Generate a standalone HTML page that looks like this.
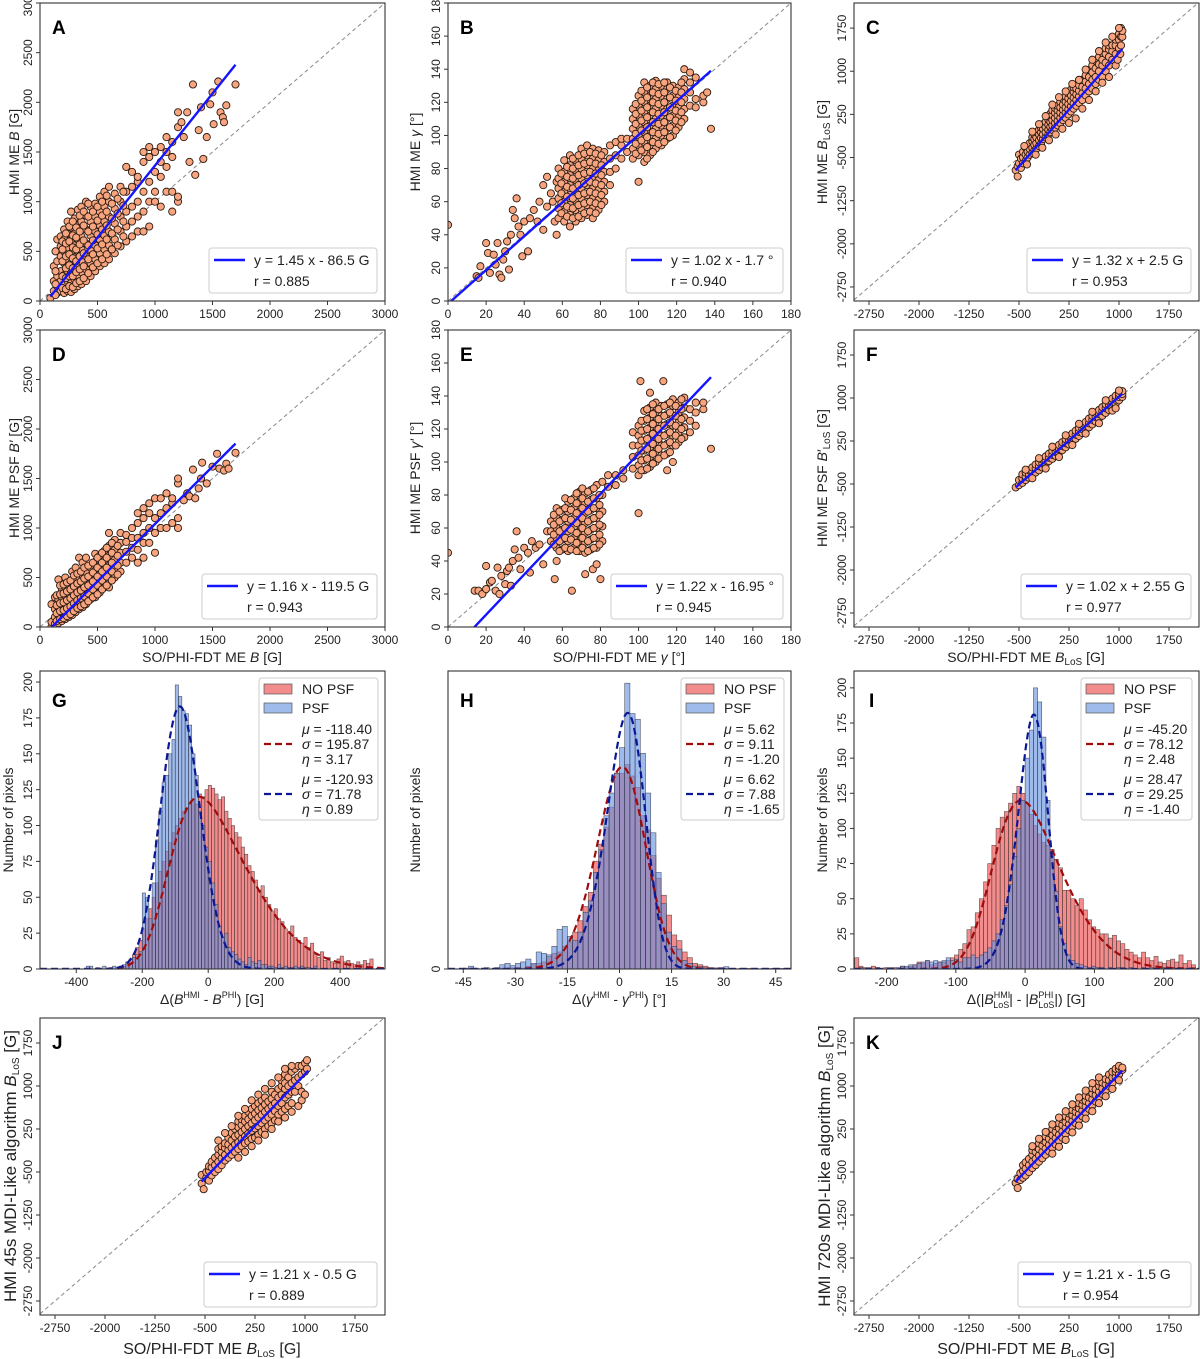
<!DOCTYPE html>
<html><head><meta charset="utf-8"><title>HMI vs SO/PHI comparison</title>
<style>
html,body{margin:0;padding:0;background:#fff;}
svg{display:block;font-family:"Liberation Sans",Arial,sans-serif;}
</style></head>
<body>
<svg id="fig" width="1200" height="1359" viewBox="0 0 1200 1359" xmlns="http://www.w3.org/2000/svg"></svg>
<script>
// ---------------- DATA ----------------
// scatter data rows: [x, y1, y2, ...]
const ptsA = [[90,30],[120,100,200,350],[150,80,150,250,400,620],[180,100,200,300,450,550,650],[210,80,160,260,380,500,620,720],[240,100,200,300,420,540,680,800],[270,90,180,280,380,480,600,740,900],[300,120,220,330,440,560,680,830],[330,150,260,370,500,620,760,920],[360,170,290,400,520,650,800,950],[400,200,320,450,580,720,860,1000],[440,250,380,520,660,800,950],[480,300,420,560,700,850,980],[520,350,480,620,760,900,1050],[560,380,520,660,800,950,1100],[600,420,560,700,850,1000,1150],[650,480,620,780,930,1080],[700,550,700,850,1000,1150],[750,600,750,900,1100,1350],[800,650,800,950,1150,1300],[850,700,850,1000,1200,1250],[900,700,900,1100,1400,1500],[950,750,1000,1200,1450,1550],[1000,1000,1100,1300,1500],[1050,950,1250,1400,1550],[1100,1100,1350,1500,1650],[1150,900,1100,1450,1600],[1200,1000,1050,1750,1900],[1230,1800],[1250,1650],[1280,1900],[1300,1400],[1330,2180],[1350,1270],[1380,1720],[1400,1950],[1420,1430],[1450,1650],[1480,1980],[1500,2100],[1510,1780],[1550,2210],[1570,1900],[1590,1850],[1600,1800],[1620,1970],[1700,2180],
[135,60,170,300,500],[195,130,250,400,520,600],[225,120,230,330,450,580,680],[255,150,250,360,470,600,750],[285,140,250,330,430,540,660,800],[315,180,290,400,520,640,740],[345,200,320,450,570,700,860],[380,230,350,480,610,760,900],[420,280,420,560,700,850,980],[460,340,470,610,750,900],[500,380,530,670,810,950],[540,420,570,720,860,1000],[580,470,620,760,900,1060],[625,520,680,830,980],[675,560,720,880,1030],[725,650,800,960,1100]];
const ptsB = [[0,46],[15,15],[16,14],[17,21],[20,35],[21,29],[22,17],[24,28],[25,22],[26,35],[27,16],[28,14],[29,25],[30,30],[31,36],[32,19],[33,40],[34,55],[35,50],[36,62],[37,45],[38,40],[39,27],[40,48],[42,30],[43,50],[45,55],[47,48],[48,60],[50,43,70],[52,75,57],[54,65],[55,60],[56,48],[57,72,40],[58,50,56,62,68,74,80],[61,48,54,60,66,72,78,85],[64,45,52,58,64,70,76,82,88],[67,48,55,61,67,73,79,85],[70,50,56,62,68,74,80,86,92],[73,52,58,64,70,76,82,88,94],[76,50,56,62,68,74,80,86,92],[79,55,61,67,73,79,85,91],[82,60,66,72,78,84,90],[85,70,78,86,94],[88,80,88,96],[91,86,94,98],[94,90,98],[97,86,92,98,104,110,116],[100,72,88,94,100,106,112,118,124],[103,84,90,96,102,108,114,120,126,132],[106,88,94,100,106,112,118,124,130],[109,92,98,104,110,116,122,128,133],[112,94,100,106,112,118,124,130],[115,98,104,110,116,122,128,132],[118,100,106,112,118,124,130],[121,105,111,117,123,129],[124,110,116,122,128,134,140],[127,118,126,132,138],[130,117,122,135],[134,120,124],[136,126],[138,104],
[59.5,53,59,65,71,77],[62.5,51,57,63,69,75,81],[65.5,50,56,62,68,74,80,86],[68.5,51,58,64,70,76,82,88],[71.5,53,59,65,71,77,83,89],[74.5,54,60,66,72,78,84,90],[77.5,53,59,65,71,77,83,89],[80.5,58,64,70,76,82,88],[98.5,89,95,101,107,113,119],[101.5,91,97,103,109,115,121,127],[104.5,86,93,99,105,111,117,123,129],[107.5,90,96,102,108,114,120,126,132],[110.5,95,101,107,113,119,125,131],[113.5,96,102,108,114,120,126,132],[116.5,99,105,111,117,123,129],[119.5,103,109,115,121,127],[122.5,108,114,120,126,132]];
const ptsD = [[100,0,50,230],[130,30,100,180,300],[160,40,120,200,280,480],[190,60,140,220,300,380],[220,80,160,240,320,400,500],[250,100,180,260,340,420],[280,120,200,280,360,440,560],[310,150,230,310,390,470,600],[340,180,260,340,420,500,700],[370,200,280,360,440,520,650],[400,230,310,390,470,550,700],[440,280,360,440,520,600],[480,300,390,480,570,660,740],[520,350,440,530,620,720],[560,400,490,580,670,770],[600,400,520,620,720,820,950],[650,500,590,680,780,880],[700,560,650,750,850,950],[750,650,760,860,930],[800,700,800,900,1000],[850,650,780,900,1050,1150],[900,700,850,950,1100,1200],[950,850,1000,1150,1250],[1000,750,950,1100,1300],[1050,1000,1150,1300],[1100,1000,1200,1350],[1150,1050,1250,1300],[1200,1000,1100,1450,1500],[1250,1280],[1280,1350],[1300,1320],[1330,1590],[1350,1300],[1380,1400],[1400,1500],[1410,1660],[1450,1450],[1500,1620],[1540,1750],[1560,1600],[1600,1580],[1620,1650],[1640,1600],[1700,1760],
[145,60,140,220,320],[175,80,160,240,330,420],[205,90,170,250,340,430],[235,110,190,270,360,450],[265,130,210,290,380,470],[295,160,240,320,410,520],[325,190,270,350,440,540],[355,210,290,370,460,560],[385,230,310,400,490,600],[420,260,340,420,510,620],[460,300,380,460,550,650],[500,330,420,510,600,700],[540,380,470,560,650,750],[580,420,510,600,700,800],[625,470,560,650,750,850],[675,530,620,720,820]];
const ptsE = [[0,45],[14,22],[16,22],[18,20],[20,37,23],[22,27],[23,28],[25,22],[26,36],[27,20],[28,31],[30,26],[31,34],[32,36],[33,25],[34,40],[35,47],[36,58],[37,42],[38,35],[40,48],[42,45],[43,33],[44,52],[46,48],[48,50],[50,38],[52,58],[56,29],[57,40],[58,65],[65,22],[72,32],[76,35],[78,38],[80,29],[54,52,58,64],[57,48,54,60,66,72],[60,47,53,59,65,71],[63,46,52,58,64,70,76],[66,48,54,60,66,72,78],[69,46,52,58,64,70,76,82],[72,45,51,57,63,69,75,81],[75,47,53,59,65,71,77,83],[78,48,54,60,66,72,78,86],[81,52,61,70,80,88],[84,85,92],[88,86,92],[92,90,95],[100,69],[97,96,103,110,118],[100,92,98,104,110,116,122],[103,95,101,107,113,119,125,131],[106,97,103,109,115,121,127,133,142],[109,100,106,112,118,124,130,136],[112,104,110,116,122,128,134],[115,95,105,111,117,123,129,135],[118,100,110,116,122,128,134,138],[121,112,118,124,130,136],[124,115,121,127,133,139],[127,118,125,132],[130,122,130,136],[134,132,136],[138,108],[101,149],[113,149],
[55.5,50,56,62,68],[58.5,46,52,58,64,70],[61.5,48,54,60,66,72,78],[64.5,47,53,59,65,71,77],[67.5,46,51,57,63,69,75,81],[70.5,48,54,60,66,72,78,84],[73.5,46,52,58,64,70,76,82],[76.5,48,54,60,66,72,78,84],[79.5,50,56,62,68,74,80],[101.5,95,101,107,113,119,125],[104.5,96,102,108,114,120,126,132],[107.5,99,105,111,117,123,129,135],[110.5,102,108,114,120,126,132],[113.5,104,110,116,122,128,134],[116.5,106,112,118,124,130,136],[119.5,110,116,122,128,134],[122.5,114,120,126,132,138]];
const ptsC = [[-550,-720],[-520,-830,-650],[-500,-600,-450],[-470,-680,-520],[-440,-600,-500,-400],[-400,-560,-450,-330],[-370,-500,-400,-300],[-340,-450,-350,-250],[-300,-420,-330,-220,-150],[-270,-380,-280,-180,-100],[-240,-350,-250,-150,-60],[-200,-300,-200,-100,-20],[-170,-260,-160,-60,20],[-140,-180,-100,0,80],[-100,-150,-60,30,120],[-60,-100,-20,70,160,220],[-30,-60,30,120,200,260],[0,-20,60,150,240,320],[40,20,100,190,280,360],[80,60,140,230,320,400],[120,100,190,280,370,470],[160,150,240,330,420,520],[200,190,280,370,470,560],[240,250,340,430,530,620],[280,300,390,480,580,680],[320,350,440,540,640,720],[360,400,500,600,700],[400,450,560,660,760],[450,500,620,730,850],[500,580,700,820,930],[550,650,780,900,1020],[600,700,850,980,1100],[650,780,900,1050,1180],[700,850,1000,1120,1250],[750,900,1100,1200,1320],[800,1000,1150,1300,1400],[850,1100,1250,1380,1450],[900,1200,1350,1450],[950,1300,1450,1550],[1000,1400,1550,1650],[1030,1450,1600,1750],[1050,1600,1700],
[-420,-300],[-380,-620],[-300,-50],[-250,-450],[-200,80],[-150,-330],[-100,220],[-50,-200],[0,420],[50,-100],[100,550],[150,0],[200,650],[250,100],[300,780],[350,180],[400,850],[450,350],[500,1030],[550,500],[600,1200],[650,650],[700,1350],[750,800],[800,1500],[850,900],[900,1600],[950,1100],[1000,1750],[980,1200],[1020,1300]];
const ptsF = [[-550,-560],[-500,-520,-430],[-450,-480,-400,-330],[-400,-430,-370,-300],[-350,-390,-330,-260],[-300,-350,-280,-210],[-250,-300,-230,-160],[-200,-260,-190,-120],[-150,-210,-140,-70],[-100,-160,-90,-20],[-50,-100,-40,30],[0,-60,10,80],[50,-10,60,130],[100,40,110,180],[150,90,160,230],[200,140,210,280],[250,190,260,330],[300,240,310,380],[350,290,360,430],[400,340,410,480],[450,390,460,530],[500,440,510,580],[550,490,560,640],[600,540,620,690],[650,590,670,740],[700,640,720,790],[750,690,770,840],[800,740,820,890],[850,790,870,940],[900,840,920,990],[950,900,970,1040],[1000,960,1020,1080],[1050,1020,1070,1120],
[-400,-250],[-300,-400],[-200,-50],[-100,-230],[0,150],[100,-30],[200,350],[300,180],[400,550],[500,380],[600,760],[700,560],[800,960],[900,780],[1000,1130],[950,820]];
const ptsJ = [[-550,-550,-700],[-520,-800],[-480,-600,-500],[-440,-650,-480,-400],[-400,-560,-420,-320],[-350,-500,-380,-250],[-300,-450,-320,-200,-100],[-250,-380,-260,-150,-50],[-200,-300,-200,-80,0],[-150,-250,-120,-20,100],[-100,-200,-80,50,180],[-50,-150,-20,120,250],[0,-100,20,150,280,380],[50,-50,80,200,320,420],[100,0,120,250,380,480],[150,30,170,300,420,550],[200,80,220,350,480,600],[250,100,260,400,520,650],[300,150,300,450,580,700],[350,200,350,500,620,750],[400,250,400,550,680,800],[450,300,450,600,730],[500,350,500,650,780,900],[550,400,560,700,850],[600,500,650,800,950],[650,550,700,850,1000,1100],[700,600,800,950,1050,1200],[750,650,850,1000,1150],[800,700,900,1050,1250],[850,900,1100,1300],[900,1000,1150,1350],[950,900,1200,1350],[1000,1250,1400],[1030,1300,1450],
[-300,50],[-200,180],[-100,300],[0,480],[100,600],[200,750],[300,850],[400,950],[500,1050],[600,1150],[700,1300],[800,1350],[0,-250],[100,-150],[200,-50],[300,50],[400,150],[500,250],[600,380],[700,450],[800,550],[900,650],[950,750],[1000,850]];
const ptsK = [[-550,-690],[-520,-780,-620],[-480,-640,-520],[-440,-600,-480,-380],[-400,-560,-440,-330],[-350,-500,-380,-270],[-300,-430,-320,-200,-120],[-250,-380,-270,-150,-60],[-200,-320,-210,-100,0],[-150,-260,-150,-40,60],[-100,-200,-90,20,120],[-50,-140,-30,80,180],[0,-80,30,140,250],[50,-20,90,200,300],[100,40,150,260,350],[150,100,210,320,420],[200,160,270,370,470],[250,230,330,430,520],[300,290,390,490,580],[350,350,450,550,640],[400,410,510,610,700],[450,470,570,670,760],[500,540,640,740,830],[550,600,700,800,900],[600,660,770,870,960],[650,730,840,940],[700,800,900,1000,1080],[750,860,960,1060],[800,920,1030,1120],[850,1000,1100,1200],[900,1050,1150,1250],[950,1150,1250,1300],[1000,1200,1300,1350],[1050,1280,1320],
[-300,-50],[-200,80],[-100,200],[0,330],[100,450],[200,560],[300,680],[400,800],[500,920],[600,1050],[700,1150],[0,-180],[100,-60],[200,60],[300,190],[400,310],[500,430],[600,560],[700,700],[800,820],[900,950],[1000,1100]];
// fit lines: slope, intercept, xstart, xend
const fitSlopes = [1.45, 1.02, 1.32, 1.16, 1.22, 1.02, 1.21, 1.21];
const fitIntercepts = [-86.5, -1.7, 2.5, -119.5, -16.95, 2.55, -0.5, -1.5];
const fitStarts = [90, 0, -550, 100, 13, -550, -550, -550];
const fitEnds = [1700, 138, 1050, 1700, 138, 1050, 1050, 1050];
const fitLabels = ["y = 1.45 x - 86.5 G","y = 1.02 x - 1.7 °","y = 1.32 x + 2.5 G","y = 1.16 x - 119.5 G","y = 1.22 x - 16.95 °","y = 1.02 x + 2.55 G","y = 1.21 x - 0.5 G","y = 1.21 x - 1.5 G"];
const rLabels = ["r = 0.885","r = 0.940","r = 0.953","r = 0.943","r = 0.945","r = 0.977","r = 0.889","r = 0.954"];
// histogram G (bin width 10 from -370)
const gStart = -370, gWidth = 10;
const gPSF = [2,2,0,1,0,2,0,1,2,1,2,3,5,4,8,10,12,53,50,35,60,90,110,130,135,150,160,198,190,180,178,170,150,135,110,100,85,75,60,45,30,22,25,15,12,10,7,5,3,8,5,4,6,3,3,2,2,1,3,1,2,1,1,2,1,2,1,1,0,2];
const gNoPSF = [0,0,0,0,0,0,0,0,0,0,0,2,4,7,10,15,20,28,35,42,50,60,68,75,82,88,95,100,105,110,112,115,118,115,122,120,125,128,126,122,118,120,110,105,100,95,92,85,80,72,68,62,55,58,50,45,40,42,35,33,28,25,30,22,20,18,22,15,18,10,8,12,6,8,5,4,7,9,5,6,4,3,5,3,6,4,7];
// histogram H (bin width 1.5 from -48)
const hStart = -48, hWidth = 1.5;
const hPSF = [0,0,3,10,3,0,5,0,5,15,20,12,20,25,35,20,60,55,50,80,140,150,115,100,130,200,240,340,420,540,620,690,780,1007,900,880,760,620,480,340,230,130,80,70,30,20,10,8,4,3,2,5,8,2,1,0,2,0,0,1,0,2,0,2];
const hNoPSF = [0,0,0,2,0,0,1,0,2,3,2,4,5,3,10,15,20,25,45,55,60,80,95,130,170,220,270,380,440,500,570,690,690,720,680,640,540,490,400,320,260,190,120,100,60,40,20,15,10,5,4,3,2,1,0,2,0,1,0,0,1,0,1,0];
// histogram I (bin width 6 from -246)
const iStart = -246, iWidth = 6;
const iPSF = [0,1,0,1,0,1,0,0,1,0,1,2,2,3,3,4,5,6,5,6,5,6,8,6,7,5,8,8,10,8,10,12,15,20,25,35,45,60,80,100,120,150,170,200,190,165,120,80,55,30,18,10,6,4,3,2,1,2,1,1,0,1,0,1,1,0,1,0,0,1,0,1,0,0,1,0,1,0,1,0,0,1];
const iNoPSF = [8,2,1,0,2,1,0,1,0,1,0,2,1,2,3,5,4,6,3,4,5,5,6,8,10,14,18,28,30,40,50,62,75,88,100,108,112,118,125,130,125,118,110,102,96,90,88,85,78,72,56,56,50,45,50,42,35,30,28,25,25,22,24,20,18,14,12,10,8,12,8,6,9,5,4,6,7,5,10,4,6,3];
// skew-normal fit params [mu, sigma, eta, peak]
const fitG_red = [-118.40, 195.87, 3.17, 120];
const fitG_blue = [-120.93, 71.78, 0.89, 183];
const fitH_red = [5.62, 9.11, -1.20, 712];
const fitH_blue = [6.62, 7.88, -1.65, 902];
const fitI_red = [-45.20, 78.12, 2.48, 120];
const fitI_blue = [28.47, 29.25, -1.40, 181];
const linTicks = [0,500,1000,1500,2000,2500,3000];
const angTicks = [0,20,40,60,80,100,120,140,160,180];
const losTicks = [-2750,-2000,-1250,-500,250,1000,1750];
const gXTicks = [-400,-200,0,200,400];
const hXTicks = [-45,-30,-15,0,15,30,45];
const iXTicks = [-200,-100,0,100,200];
const cntTicks = [0,25,50,75,100,125,150,175,200];

// ---------------- RENDER ----------------
const NS = "http://www.w3.org/2000/svg";
const svg = document.getElementById('fig');
function mk(tag, attrs, parent){
  const e = document.createElementNS(NS, tag);
  for (const k in attrs) e.setAttribute(k, attrs[k]);
  (parent || svg).appendChild(e);
  return e;
}
function scale(d0,d1,p0,p1){ return v => p0 + (v-d0)/(d1-d0)*(p1-p0); }

const COLS = [[40,385],[448,791],[854,1199]];
const ROWS = [[3,301],[330,627],[671,969],[1018,1315]];

function frame(g, box){
  const r = mk('rect',{x:box.l,y:box.t,width:box.r-box.l,height:box.b-box.t,fill:'none',stroke:'#333','stroke-width':1.1},g);
  
  
}
function xTicks(g, box, sx, ticks){
  ticks.forEach(v=>{
    const x = sx(v);
    const t = mk('line',{x1:x,x2:x,y1:box.b,y2:box.b+4,stroke:'#333','stroke-width':1},g);
    
    
    const tx = mk('text',{x:x,y:box.b+17,'font-size':12,'text-anchor':'middle',fill:'#222'},g);
    
    
    tx.textContent = String(v);
  });
}
function yTicks(g, box, sy, ticks){
  ticks.forEach(v=>{
    const y = sy(v);
    const t = mk('line',{x1:box.l-4,x2:box.l,y1:y,y2:y,stroke:'#333','stroke-width':1},g);
    
    
    const tx = mk('text',{x:box.l-8,y:y,'font-size':12,'text-anchor':'middle',fill:'#222',transform:`rotate(-90 ${box.l-8} ${y})`},g);
    
    
    tx.textContent = String(v);
  });
}
function letter(g, box, s){
  const t = mk('text',{x:box.l+12,y:box.t+31,'font-size':19,'font-weight':'bold',fill:'#000'},g);
  
  
  t.textContent = s;
}
function yLabel(g, x, y, html, fs){
  const t = mk('text',{x:x,y:y,'font-size':fs||14,'text-anchor':'middle',fill:'#222',transform:`rotate(-90 ${x} ${y})`},g);
  
  
  t.innerHTML = html;
}
function xLabel(g, x, y, html, fs){
  const t = mk('text',{x:x,y:y,'font-size':fs||14,'text-anchor':'middle',fill:'#222'},g);
  
  
  t.innerHTML = html;
}

function scatterPanel(name, col, row, xd, yd, xt, yt, pts, fi, legW, lett){
  const g = mk('g',{});
  
  
  const box = {l:COLS[col][0], r:COLS[col][1], t:ROWS[row][0], b:ROWS[row][1]};
  const sx = scale(xd[0],xd[1],box.l,box.r), sy = scale(yd[0],yd[1],box.b,box.t);
  const clipId = 'clip-'+name;
  const cp = mk('clipPath',{id:clipId},g);
  mk('rect',{x:box.l,y:box.t,width:box.r-box.l,height:box.b-box.t},cp);
  const inner = mk('g',{'clip-path':`url(#${clipId})`},g);
  const lo = Math.max(xd[0],yd[0]), hi = Math.min(xd[1],yd[1]);
  const d = mk('line',{x1:sx(lo),y1:sy(lo),x2:sx(hi),y2:sy(hi),stroke:'#888','stroke-width':1,'stroke-dasharray':'4,3'},inner);
  
  
  pts.forEach(row=>{
    for (let k=1;k<row.length;k++){
      const c = mk('circle',{cx:sx(row[0]),cy:sy(row[k]),r:3.6,fill:'#f7a47f',stroke:'#2a1a10','stroke-width':0.9},inner);
      
      
    }
  });
  const a = fitSlopes[fi], b0 = fitIntercepts[fi];
  const f = mk('line',{x1:sx(fitStarts[fi]),y1:sy(a*fitStarts[fi]+b0),x2:sx(fitEnds[fi]),y2:sy(a*fitEnds[fi]+b0),stroke:'#1414ff','stroke-width':2.4},inner);
  
  
  frame(g, box);
  xTicks(g, box, sx, xt);
  yTicks(g, box, sy, yt);
  letter(g, box, lett);
  const lg = mk('g',{},g);
  
  
  const lx = box.r-8-legW, ly = box.b-53;
  mk('rect',{x:lx,y:ly,width:legW,height:45,rx:3,fill:'#fff','fill-opacity':0.85,stroke:'#ccc','stroke-width':1},lg);
  const ll = mk('line',{x1:lx+5,x2:lx+36,y1:ly+12,y2:ly+12,stroke:'#1414ff','stroke-width':2.4},lg);
  
  
  const t1 = mk('text',{x:lx+45,y:ly+17,'font-size':14,fill:'#222'},lg);
  
  
  t1.textContent = fitLabels[fi];
  const t2 = mk('text',{x:lx+45,y:ly+38,'font-size':14,fill:'#222'},lg);
  
  
  t2.textContent = rLabels[fi];
  return g;
}

function skewPdf(x, p){
  const z = (x-p[0])/p[1];
  const phi = Math.exp(-0.5*z*z);
  const u = p[2]*z/Math.SQRT2;
  const s = u<0?-1:1, au=Math.abs(u), t=1/(1+0.3275911*au);
  const erf = s*(1-(((((1.061405429*t-1.453152027)*t)+1.421413741)*t-0.284496736)*t+0.254829592)*t*Math.exp(-au*au));
  return phi*(1+erf);
}

function histPanel(name, col, xd, yd, xt, yt, start, width, noPsf, psf, fr, fb, legW, labelsR, labelsB, lett){
  const g = mk('g',{});
  
  
  const box = {l:COLS[col][0], r:COLS[col][1], t:ROWS[2][0], b:ROWS[2][1]};
  const sx = scale(xd[0],xd[1],box.l,box.r), sy = scale(yd[0],yd[1],box.b,box.t);
  const clipId = 'clip-'+name;
  const cp = mk('clipPath',{id:clipId},g);
  mk('rect',{x:box.l,y:box.t,width:box.r-box.l,height:box.b-box.t},cp);
  const inner = mk('g',{'clip-path':`url(#${clipId})`},g);
  noPsf.forEach((c,i)=>{
    if (!c) return;
    const x0 = start+i*width;
    const r = mk('rect',{x:sx(x0),y:sy(c),width:sx(x0+width)-sx(x0),height:sy(0)-sy(c),fill:'rgba(240,112,112,0.8)',stroke:'rgba(50,40,40,0.75)','stroke-width':0.6},inner);
    
    
  });
  psf.forEach((c,i)=>{
    if (!c) return;
    const x0 = start+i*width;
    const r = mk('rect',{x:sx(x0),y:sy(c),width:sx(x0+width)-sx(x0),height:sy(0)-sy(c),fill:'rgba(100,145,225,0.62)',stroke:'rgba(40,40,60,0.75)','stroke-width':0.6},inner);
    
    
  });
  [[fr,'#a00c0c','fit-curve-no-psf'],[fb,'#0a1896','fit-curve-psf']].forEach(([p,col2,nm])=>{
    const xs=[]; for(let i=0;i<=400;i++) xs.push(xd[0]+(xd[1]-xd[0])*i/400);
    const vs = xs.map(x=>skewPdf(x,p)); const mx = Math.max(...vs);
    const dd = xs.map((x,i)=>(i?'L':'M')+sx(x).toFixed(1)+','+sy(vs[i]/mx*p[3]).toFixed(1)).join('');
    const pth = mk('path',{d:dd,fill:'none',stroke:col2,'stroke-width':2.2,'stroke-dasharray':'7,4'},inner);
    
    
  });
  frame(g, box);
  xTicks(g, box, sx, xt);
  yTicks(g, box, sy, yt);
  letter(g, {l:box.l+(lett==='I'?3:0), t:box.t+5}, lett);
  const lg = mk('g',{},g);
  
  
  const lx = box.r-7-legW, ly = box.t+7;
  mk('rect',{x:lx,y:ly,width:legW,height:142,rx:3,fill:'#fff','fill-opacity':0.85,stroke:'#ccc','stroke-width':1},lg);
  const p1 = mk('rect',{x:lx+5,y:ly+6,width:28,height:10,fill:'rgba(240,112,112,0.8)',stroke:'#555','stroke-width':0.7},lg);
  
  
  const p2 = mk('rect',{x:lx+5,y:ly+25,width:28,height:10,fill:'rgba(100,145,225,0.62)',stroke:'#555','stroke-width':0.7},lg);
  
  
  const t1 = mk('text',{x:lx+43,y:ly+16,'font-size':14,fill:'#222'},lg);
  
  
  t1.textContent='NO PSF';
  const t2 = mk('text',{x:lx+43,y:ly+35,'font-size':14,fill:'#222'},lg);
  
  
  t2.textContent='PSF';
  [[labelsR,'#a00c0c',0],[labelsB,'#0a1896',50]].forEach(([labs,c2,off])=>{
    const ln = mk('line',{x1:lx+5,x2:lx+33,y1:ly+66+off,y2:ly+66+off,stroke:c2,'stroke-width':2.2,'stroke-dasharray':'7,4'},lg);
    
    
    ['μ','σ','η'].forEach((sym,k)=>{
      const tt = mk('text',{x:lx+43,y:ly+56+off+k*15,'font-size':14,fill:'#222'},lg);
      
      
      tt.innerHTML = `<tspan font-style="italic">${sym}</tspan> = ${labs[k]}`;
    });
  });
}

const LOSX=[-2975,2200], LOSY=[-2994,2186];
scatterPanel('panel-a',0,0,[0,3000],[0,3000],linTicks,linTicks,ptsA,0,168,'A');
scatterPanel('panel-b',1,0,[0,180],[0,180],angTicks,angTicks,ptsB,1,157,'B');
scatterPanel('panel-c',2,0,LOSX,LOSY,losTicks,losTicks,ptsC,2,164,'C');
scatterPanel('panel-d',0,1,[0,3000],[0,3000],linTicks,linTicks,ptsD,3,175,'D');
scatterPanel('panel-e',1,1,[0,180],[0,180],angTicks,angTicks,ptsE,4,172,'E');
scatterPanel('panel-f',2,1,LOSX,LOSY,losTicks,losTicks,ptsF,5,170,'F');
histPanel('panel-g',0,[-510,536],[0,207.7],gXTicks,cntTicks,gStart,gWidth,gNoPSF,gPSF,fitG_red,fitG_blue,119,['-118.40','195.87','3.17'],['-120.93','71.78','0.89'],'G');
histPanel('panel-h',1,[-49.4,49.4],[0,1050],hXTicks,[0],hStart,hWidth,hNoPSF,hPSF,fitH_red,fitH_blue,103,['5.62','9.11','-1.20'],['6.62','7.88','-1.65'],'H');
histPanel('panel-i',2,[-247,251],[0,212],iXTicks,cntTicks,iStart,iWidth,iNoPSF,iPSF,fitI_red,fitI_blue,111,['-45.20','78.12','2.48'],['28.47','29.25','-1.40'],'I');
scatterPanel('panel-j',0,3,LOSX,LOSY,losTicks,losTicks,ptsJ,6,173,'J');
scatterPanel('panel-k',2,3,LOSX,LOSY,losTicks,losTicks,ptsK,7,173,'K');

// axis titles
const gl = mk('g',{});


const sub = s=>`<tspan font-size="10" baseline-shift="-3">${s}</tspan> `;
const sup = s=>`<tspan font-size="9" baseline-shift="6">${s}</tspan>`;
yLabel(gl,19,152,'HMI ME <tspan font-style="italic">B</tspan> [G]');
yLabel(gl,420,152,'HMI ME <tspan font-style="italic">γ</tspan> [°]');
yLabel(gl,827,152,'HMI ME <tspan font-style="italic">B</tspan>'+sub('LoS')+'[G]');
yLabel(gl,19,478,'HMI ME PSF <tspan font-style="italic">B′</tspan> [G]');
yLabel(gl,420,478,'HMI ME PSF <tspan font-style="italic">γ′</tspan> [°]');
yLabel(gl,827,478,'HMI ME PSF <tspan font-style="italic">B</tspan>′'+sub('LoS')+'[G]');
yLabel(gl,13,820,'Number of pixels');
yLabel(gl,420,820,'Number of pixels');
yLabel(gl,827,820,'Number of pixels');
yLabel(gl,16,1166,'HMI 45s MDI-Like algorithm <tspan font-style="italic">B</tspan>'+sub('LoS')+'[G]',17);
yLabel(gl,830,1166,'HMI 720s MDI-Like algorithm <tspan font-style="italic">B</tspan>'+sub('LoS')+'[G]',17);
xLabel(gl,212,662,'SO/PHI-FDT ME <tspan font-style="italic">B</tspan> [G]');
xLabel(gl,619,662,'SO/PHI-FDT ME <tspan font-style="italic">γ</tspan> [°]');
xLabel(gl,1026,662,'SO/PHI-FDT ME <tspan font-style="italic">B</tspan>'+sub('LoS')+'[G]');
xLabel(gl,212,1004,'Δ(<tspan font-style="italic">B</tspan>'+sup('HMI')+' - <tspan font-style="italic">B</tspan>'+sup('PHI')+') [G]');
xLabel(gl,619,1004,'Δ(<tspan font-style="italic">γ</tspan>'+sup('HMI')+' - <tspan font-style="italic">γ</tspan>'+sup('PHI')+') [°]');
xLabel(gl,1026,1004,'Δ(|<tspan font-style="italic">B</tspan><tspan font-size="9" baseline-shift="6">HMI</tspan><tspan font-size="9" dx="-17" baseline-shift="-4">LoS</tspan>| - |<tspan font-style="italic">B</tspan><tspan font-size="9" baseline-shift="6">PHI</tspan><tspan font-size="9" dx="-15" baseline-shift="-4">LoS</tspan>|) [G]');
xLabel(gl,212,1354,'SO/PHI-FDT ME <tspan font-style="italic">B</tspan>'+sub('LoS')+'[G]',16);
xLabel(gl,1026,1354,'SO/PHI-FDT ME <tspan font-style="italic">B</tspan>'+sub('LoS')+'[G]',16);
</script>
</body></html>
